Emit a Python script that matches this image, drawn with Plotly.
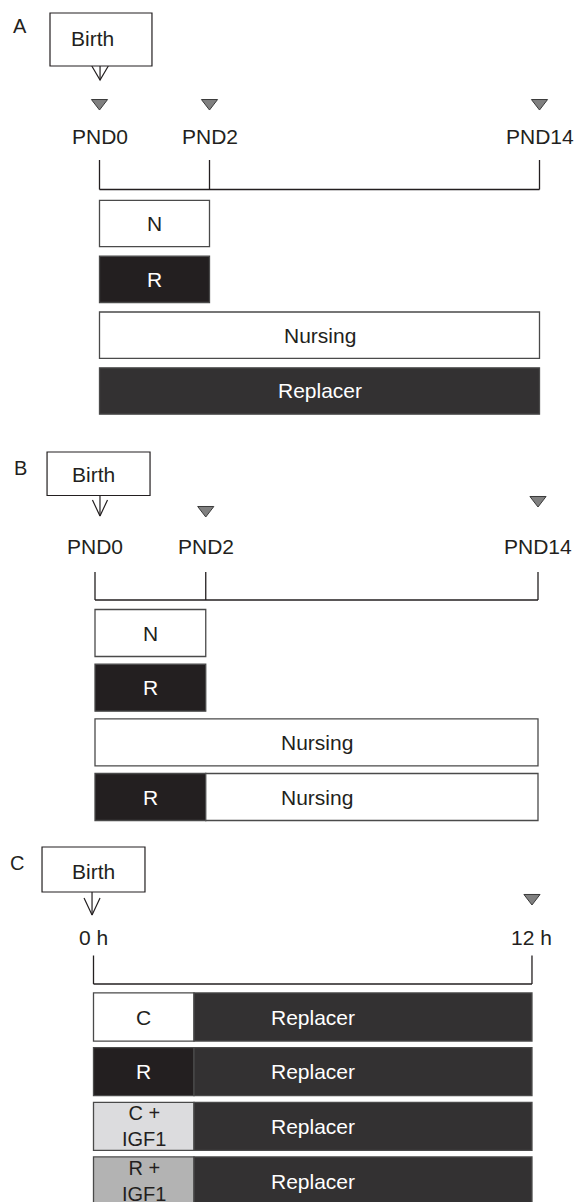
import plotly.graph_objects as go

# ------------------------------------------------------------------ DATA
# Panel A – timeline (schematic positions) and groups
A_tick_labels = ["PND0", "PND2", "PND14"]
A_tick_pos = [0, 1, 4]
A_tick_sampled = [True, True, True]
A_seg_row = [0, 1, 2, 3]
A_seg_start = [0, 0, 0, 0]
A_seg_end = [1, 1, 4, 4]
A_seg_kind = ["N", "R", "N", "Replacer"]
A_seg_label = ["N", "R", "Nursing", "Replacer"]

# Panel B
B_tick_labels = ["PND0", "PND2", "PND14"]
B_tick_pos = [0, 1, 4]
B_tick_sampled = [False, True, True]
B_seg_row = [0, 1, 2, 3, 3]
B_seg_start = [0, 0, 0, 0, 1]
B_seg_end = [1, 1, 4, 1, 4]
B_seg_kind = ["N", "R", "N", "R", "N"]
B_seg_label = ["N", "R", "Nursing", "R", "Nursing"]

# Panel C – timeline in hours
C_tick_labels = ["0 h", "12 h"]
C_tick_pos = [0, 12]
C_tick_sampled = [False, True]
C_seg_row = [0, 0, 1, 1, 2, 2, 3, 3]
C_seg_start = [0, 2.75, 0, 2.75, 0, 2.75, 0, 2.75]
C_seg_end = [2.75, 12, 2.75, 12, 2.75, 12, 2.75, 12]
C_seg_kind = ["N", "Replacer", "R", "Replacer", "C+IGF1", "Replacer", "R+IGF1", "Replacer"]
C_seg_label = ["C", "Replacer", "R", "Replacer", "C +<br>IGF1", "Replacer", "R +<br>IGF1", "Replacer"]

START_LABEL = "Birth"
PANEL_LETTERS = ["A", "B", "C"]

# ------------------------------------------------------------------ STYLE
W, H = 575, 1202
FONT = "Liberation Sans, Arial, Helvetica, sans-serif"
INK = "#231f20"
FILL = {"N": "#ffffff", "R": "#231f20", "Replacer": "#333132",
        "C+IGF1": "#dcdcde", "R+IGF1": "#b3b3b3"}
TXT = {"N": INK, "R": "#ffffff", "Replacer": "#ffffff",
       "C+IGF1": INK, "R+IGF1": INK}
EDGE = "#4a4a4a"

panels = [
    dict(letter=PANEL_LETTERS[0], letter_px=(20, 26.5),
         ticks=A_tick_labels, pos=A_tick_pos, sampled=A_tick_sampled,
         row=A_seg_row, start=A_seg_start, end=A_seg_end, kind=A_seg_kind, label=A_seg_label,
         x0=99.5, kx=110.0, y0=223.5, ky=55.83, bar_w=0.83,
         box=(-0.45, 0.477, -3.770, -2.821), box_txt=(-0.064, -3.316),
         arr_x=0.005, arr_tip=-2.570, arm_top=-2.821, arm_hw=0.075,
         tri_r=[-2.158, -2.158, -2.158], lab_r=-1.558, br_top=-1.137, br_bot=-0.609,
         seg_font=21, multiline_font=20),
    dict(letter=PANEL_LETTERS[1], letter_px=(20, 468),
         ticks=B_tick_labels, pos=B_tick_pos, sampled=B_tick_sampled,
         row=B_seg_row, start=B_seg_start, end=B_seg_end, kind=B_seg_kind, label=B_seg_label,
         x0=95.0, kx=110.75, y0=633.0, ky=54.67, bar_w=0.86,
         box=(-0.433, 0.497, -3.311, -2.515), box_txt=(-0.015, -2.908),
         arr_x=0.045, arr_tip=-2.140, arm_top=-2.433, arm_hw=0.068,
         tri_r=[None, -2.25, -2.433], lab_r=-1.591, br_top=-1.116, br_bot=-0.604,
         seg_font=21, multiline_font=20),
    dict(letter=PANEL_LETTERS[2], letter_px=(17, 863),
         ticks=C_tick_labels, pos=C_tick_pos, sampled=C_tick_sampled,
         row=C_seg_row, start=C_seg_start, end=C_seg_end, kind=C_seg_kind, label=C_seg_label,
         x0=93.5, kx=36.54, y0=1017.0, ky=54.67, bar_w=0.88,
         box=(-1.409, 1.409, -3.110, -2.286), box_txt=(0.0, -2.661),
         arr_x=-0.04, arr_tip=-1.866, arm_top=-2.177, arm_hw=0.219,
         tri_r=[None, -2.177], lab_r=-1.45, br_top=-1.125, br_bot=-0.604,
         seg_font=21, multiline_font=20),
]

fig = go.Figure()
shapes, annotations = [], []
layout_axes = {}

for i, p in enumerate(panels):
    n = "" if i == 0 else str(i + 1)
    xa, ya = "x" + n, "y" + n
    layout_axes["xaxis" + n] = dict(domain=[0, 1], range=[-p["x0"] / p["kx"], (W - p["x0"]) / p["kx"]],
                                    visible=False, fixedrange=True, anchor=ya)
    layout_axes["yaxis" + n] = dict(domain=[0, 1], range=[(H - p["y0"]) / p["ky"], -p["y0"] / p["ky"]],
                                    visible=False, fixedrange=True, anchor=xa)

    # group bars
    for r, s, e, k, lab in zip(p["row"], p["start"], p["end"], p["kind"], p["label"]):
        fig.add_trace(go.Bar(orientation="h", y=[r], x=[e - s], base=[s], width=p["bar_w"],
                             marker=dict(color=FILL[k], line=dict(color=EDGE, width=1.3)),
                             xaxis=xa, yaxis=ya, showlegend=False, hoverinfo="skip"))
        fs = p["multiline_font"] if "<br>" in lab else p["seg_font"]
        annotations.append(dict(x=(p["pos"][0] + e) / 2, y=r, xref=xa, yref=ya,
                                text=lab, showarrow=False, xanchor="center", yanchor="middle",
                                font=dict(family=FONT, size=fs, color=TXT[k])))

    # sampling triangles
    tx = [x for x, sm in zip(p["pos"], p["sampled"]) if sm]
    ty = [y for y, sm in zip(p["tri_r"], p["sampled"]) if sm]
    fig.add_trace(go.Scatter(x=tx, y=ty, mode="markers", xaxis=xa, yaxis=ya,
                             marker=dict(symbol="triangle-down", size=14, color="#808080",
                                         line=dict(color="#3a3a3a", width=1)),
                             showlegend=False, hoverinfo="skip"))

    # timeline labels
    for x, t in zip(p["pos"], p["ticks"]):
        annotations.append(dict(x=x, y=p["lab_r"], xref=xa, yref=ya, text=t, showarrow=False,
                                xanchor="center", yanchor="middle",
                                font=dict(family=FONT, size=21, color=INK)))

    # bracket
    shapes.append(dict(type="line", xref=xa, yref=ya, x0=p["pos"][0], x1=p["pos"][-1],
                       y0=p["br_bot"], y1=p["br_bot"], line=dict(color=INK, width=1.3)))
    for x in p["pos"]:
        shapes.append(dict(type="line", xref=xa, yref=ya, x0=x, x1=x,
                           y0=p["br_top"], y1=p["br_bot"], line=dict(color=INK, width=1.3)))

    # Birth box + arrow
    bx0, bx1, by0, by1 = p["box"]
    shapes.append(dict(type="rect", xref=xa, yref=ya, x0=bx0, x1=bx1, y0=by0, y1=by1,
                       line=dict(color=INK, width=1.2), fillcolor="white"))
    annotations.append(dict(x=p["box_txt"][0], y=p["box_txt"][1], xref=xa, yref=ya, text=START_LABEL,
                            showarrow=False, xanchor="center", yanchor="middle",
                            font=dict(family=FONT, size=21, color=INK)))
    ax, tip, at, hw = p["arr_x"], p["arr_tip"], p["arm_top"], p["arm_hw"]
    fig.add_trace(go.Scatter(x=[ax, ax, None, ax - hw, ax, ax + hw],
                             y=[by1, tip, None, at, tip, at], mode="lines",
                             line=dict(color=INK, width=1.2), xaxis=xa, yaxis=ya,
                             showlegend=False, hoverinfo="skip"))

    # panel letter
    annotations.append(dict(x=p["letter_px"][0] / W, y=1 - p["letter_px"][1] / H, xref="paper", yref="paper",
                            text=p["letter"], showarrow=False, xanchor="center", yanchor="middle",
                            font=dict(family=FONT, size=20, color=INK)))

fig.update_layout(width=W, height=H, margin=dict(l=0, r=0, t=0, b=0),
                  paper_bgcolor="white", plot_bgcolor="rgba(0,0,0,0)",
                  barmode="overlay", shapes=shapes, annotations=annotations,
                  **layout_axes)

fig.write_html("out.html", config={"displayModeBar": False},
               post_script="document.body.style.margin='0px';document.body.style.padding='0px';")
